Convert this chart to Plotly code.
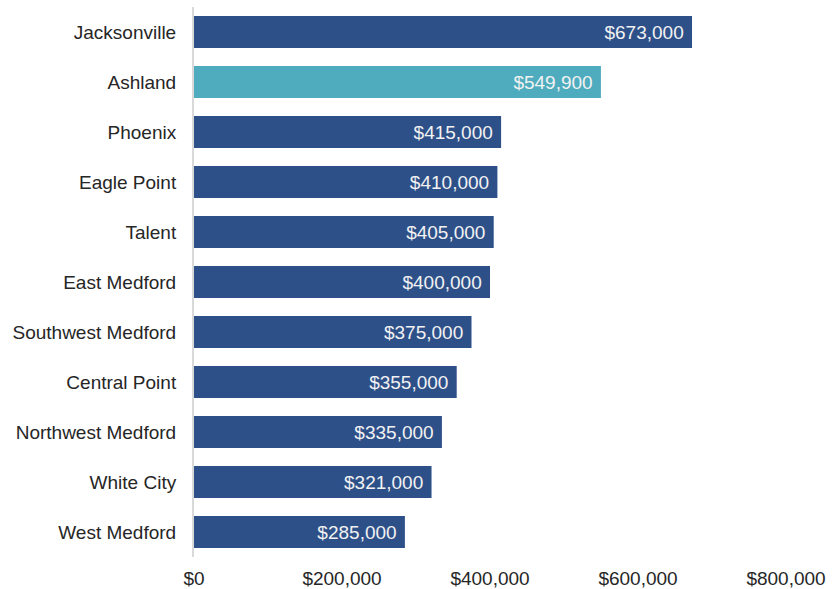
import plotly.graph_objects as go

# Median home sale price by area
areas = [
    "Jacksonville", "Ashland", "Phoenix", "Eagle Point", "Talent",
    "East Medford", "Southwest Medford", "Central Point",
    "Northwest Medford", "White City", "West Medford",
]
prices = [673000, 549900, 415000, 410000, 405000, 400000, 375000,
          355000, 335000, 321000, 285000]
highlight = "Ashland"

x_ticks = [0, 200000, 400000, 600000, 800000]
x_tick_labels = ["$0", "$200,000", "$400,000", "$600,000", "$800,000"]

DARK = "#2D5089"
TEAL = "#4EACBE"
colors = [TEAL if a == highlight else DARK for a in areas]

FONT = "Liberation Sans, Arial, sans-serif"

fig = go.Figure(
    go.Bar(
        x=prices,
        y=areas,
        orientation="h",
        marker=dict(color=colors, line=dict(width=0)),
        width=0.64,
        texttemplate="%{x:$,.0f}\u00a0",
        textposition="inside",
        insidetextanchor="end",
        textfont=dict(family=FONT, size=19, color="#F2F2F2"),
        hoverinfo="skip",
    )
)

fig.update_layout(
    width=833,
    height=589,
    margin=dict(l=194, r=47, t=7, b=32),
    paper_bgcolor="white",
    plot_bgcolor="white",
    showlegend=False,
    font=dict(family=FONT, size=19, color="#262626"),
    uniformtext=dict(minsize=10, mode=False),
)

fig.update_xaxes(
    range=[0, 800000],
    tickvals=x_ticks,
    ticktext=x_tick_labels,
    showgrid=False,
    zeroline=False,
    showline=False,
    ticks="",
    automargin=False,
    ticklabelstandoff=8,
    tickfont=dict(family=FONT, size=19, color="#262626"),
)

fig.update_yaxes(
    categoryorder="array",
    categoryarray=areas[::-1],
    showgrid=False,
    zeroline=False,
    showline=True,
    linecolor="#D9D9D9",
    linewidth=2,
    ticks="",
    automargin=False,
    ticklabelstandoff=12,
    tickfont=dict(family=FONT, size=19, color="#262626"),
)

fig.write_html("out.html")
